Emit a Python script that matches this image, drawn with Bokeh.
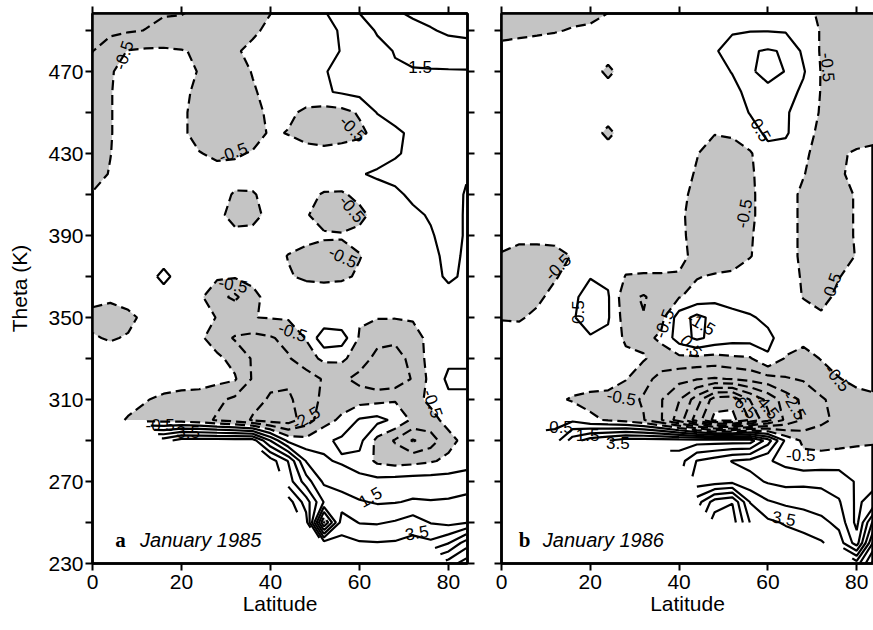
import numpy as np
from bokeh.plotting import figure
from bokeh.layouts import row
from bokeh.models import Range1d, FixedTicker, LinearAxis
from bokeh.core.properties import value
from bokeh.embed import file_html
from bokeh.resources import INLINE

nan = float("nan")

# ---------------- data ----------------
LAT = [0, 4, 8, 12, 16, 20, 24, 28, 32, 36, 40, 44, 48, 52, 56, 60, 64, 68, 72, 76, 80, 84]
THETA_DESC = [500, 490, 480, 470, 460, 450, 440, 430, 420, 410, 400, 390, 380, 370,
              360, 350, 340, 330, 320, 310, 300, 290, 280, 270, 260, 250, 240, 230]

# Panel a: January 1985 (rows from theta 500 down to 230, columns LAT)
JAN1985 = [
    [-1.8, -1.8, -1.7, -1.7, -1.6, -1.6, -1.4, -1.1, -0.9, -0.7, -0.55, -0.2, 0.1, 0.48, 0.9, 1.6, 2.0, 2.45, 2.8, 3.0, 3.1, 3.2],
    [-1.8, -1.7, -1.6, -1.48, -1.3, -1.2, -1.1, -1.0, -0.9, -0.65, -0.3, -0.1, 0.1, 0.35, 0.55, 1.0, 1.6, 1.9, 2.1, 2.4, 2.7, 2.8],
    [-1.52, -1.0, -0.45, -0.35, -0.35, -0.45, -0.6, -0.9, -0.6, -0.3, -0.1, 0.0, 0.1, 0.35, 0.52, 0.9, 1.2, 1.55, 1.7, 1.8, 1.9, 2.0],
    [-1.2, -0.6, -0.1, 0.0, 0.0, -0.2, -0.55, -1.0, -0.9, -0.45, -0.2, 0.0, 0.15, 0.45, 0.7, 1.0, 1.2, 1.4, 1.45, 1.45, 1.45, 1.45],
    [-1.0, -0.55, -0.1, 0.0, 0.0, -0.2, -0.8, -1.2, -1.1, -0.6, -0.2, 0.0, 0.1, 0.4, 0.6, 0.8, 1.0, 1.1, 1.2, 1.25, 1.3, 1.3],
    [-0.9, -0.55, -0.1, 0.0, 0.0, -0.3, -0.9, -1.3, -1.2, -0.8, -0.3, -0.3, -0.7, -0.9, -0.8, -0.4, 0.55, 0.8, 0.9, 1.0, 1.0, 0.9],
    [-0.9, -0.55, -0.1, 0.0, 0.0, -0.3, -0.9, -1.2, -1.2, -1.0, -0.35, -0.55, -0.9, -1.0, -0.9, -0.7, -0.2, 0.35, 0.65, 0.8, 0.8, 0.6],
    [-0.9, -0.52, -0.1, 0.0, 0.0, -0.1, -0.45, -0.7, -0.65, -0.4, -0.1, 0.0, -0.1, -0.2, -0.1, 0.0, 0.2, 0.45, 0.6, 0.7, 0.7, 0.55],
    [-0.8, -0.45, 0.0, 0.0, 0.0, 0.0, -0.1, -0.15, -0.1, 0.0, 0.0, 0.0, 0.1, 0.2, 0.3, 0.45, 0.6, 0.65, 0.7, 0.75, 0.75, 0.55],
    [-0.45, -0.2, 0.0, 0.0, 0.0, 0.0, 0.0, -0.1, -0.6, -0.6, -0.1, 0.0, -0.2, -0.6, -0.65, -0.2, 0.2, 0.4, 0.6, 0.7, 0.75, 0.45],
    [0.0, 0.0, 0.0, 0.0, 0.0, 0.0, 0.0, -0.2, -0.9, -0.8, -0.2, 0.0, -0.4, -1.0, -1.1, -0.8, -0.1, 0.2, 0.4, 0.55, 0.7, 0.45],
    [0.0, 0.0, 0.0, 0.0, 0.0, 0.0, 0.0, 0.0, -0.2, -0.2, 0.0, 0.0, -0.1, -0.35, -0.4, -0.2, 0.0, 0.1, 0.3, 0.45, 0.7, 0.45],
    [0.0, 0.0, 0.0, 0.0, 0.0, 0.0, 0.0, 0.0, 0.0, 0.0, 0.0, -0.55, -0.9, -1.0, -0.9, -0.55, -0.1, 0.0, 0.2, 0.4, 0.6, 0.45],
    [0.0, 0.0, 0.0, 0.0, 0.8, 0.0, 0.0, -0.35, -0.4, -0.2, 0.0, -0.4, -0.7, -0.8, -0.7, -0.35, 0.0, 0.0, 0.1, 0.3, 0.6, 0.4],
    [-0.2, -0.3, 0.0, 0.0, 0.0, 0.0, -0.3, -1.2, -1.7, -0.8, -0.1, 0.0, 0.2, 0.2, 0.2, 0.0, 0.0, 0.0, 0.0, 0.1, 0.3, 0.2],
    [-0.8, -1.0, -0.8, -0.2, 0.0, 0.0, -0.3, -0.52, -0.6, -0.52, -0.45, -0.4, -0.2, -0.3, -0.3, -0.4, -0.45, -0.45, -0.4, 0.0, 0.0, 0.0],
    [-0.4, -0.6, -0.4, 0.0, 0.0, 0.0, -0.3, -1.0, -1.6, -1.8, -1.6, -1.2, -0.45, 1.2, 1.0, -0.6, -1.2, -1.3, -0.9, -0.2, 0.0, 0.0],
    [0.0, 0.0, 0.0, 0.0, 0.0, 0.0, 0.0, -0.3, -0.8, -1.6, -2.0, -1.6, -0.9, -0.3, -0.3, -1.0, -1.8, -1.9, -1.2, -0.1, 0.3, 0.3],
    [0.0, 0.0, 0.0, 0.0, 0.0, 0.0, 0.0, -0.2, -0.4, -1.6, -2.3, -2.4, -2.0, -1.4, -1.3, -1.8, -2.3, -2.2, -1.4, -0.2, 0.7, 0.7],
    [0.0, 0.0, -0.1, -0.45, -0.7, -0.9, -1.0, -1.3, -1.7, -2.2, -2.6, -2.6, -2.2, -1.2, -1.0, -0.9, -0.8, -0.6, -0.8, -0.3, 0.3, 0.3],
    [0.0, -0.1, -0.6, -0.8, -0.9, -1.0, -1.2, -1.6, -2.0, -2.6, -3.0, -3.0, -2.0, -0.9, -0.3, 0.6, 0.8, 0.3, -0.7, -0.8, -0.2, 0.0],
    [nan, nan, nan, nan, 4.0, 5.0, 5.0, 5.0, 5.0, 5.0, 2.45, 0.2, -0.2, 0.3, 0.7, 0.8, -0.8, -1.6, -2.6, -2.0, -0.8, -0.2],
    [nan, nan, nan, nan, nan, nan, nan, nan, nan, nan, 6.0, 4.45, 1.45, 0.6, 0.4, 0.2, -0.7, -0.9, -0.8, -0.6, -0.3, 0.1],
    [nan, nan, nan, nan, nan, nan, nan, nan, nan, nan, nan, 5.0, 3.0, 1.3, 1.0, 0.7, 0.8, 0.9, 1.0, 1.0, 1.0, 1.0],
    [nan, nan, nan, nan, nan, nan, nan, nan, nan, nan, nan, 7.0, 5.0, 2.45, 2.0, 1.6, 1.4, 1.45, 1.6, 1.55, 1.6, 1.8],
    [nan, nan, nan, nan, nan, nan, nan, nan, nan, nan, nan, nan, 6.0, -1.6, 3.0, 2.45, 2.4, 2.6, 3.0, 2.45, 2.2, 2.45],
    [nan, nan, nan, nan, nan, nan, nan, nan, nan, nan, nan, nan, nan, 4.0, 3.8, 3.6, 3.55, 3.6, 3.8, 3.7, 4.45, 6.0],
    [nan, nan, nan, nan, nan, nan, nan, nan, nan, nan, nan, nan, nan, nan, nan, nan, nan, nan, nan, nan, 7.0, 8.0],
]

# Panel b: January 1986
JAN1986 = [
    [-1.0, -0.9, -0.85, -0.8, -0.75, -0.7, -0.55, -0.3, -0.1, 0.0, 0.0, 0.1, 0.2, 0.3, 0.3, 0.3, 0.2, -0.2, -0.7, -0.9, -1.0, -1.0],
    [-0.7, -0.65, -0.6, -0.55, -0.45, -0.4, -0.2, 0.0, 0.0, 0.0, 0.0, 0.1, 0.3, 0.4, 0.45, 0.45, 0.4, 0.3, -0.6, -0.9, -1.0, -1.0],
    [-0.3, -0.25, -0.2, -0.1, -0.1, 0.0, 0.0, 0.0, 0.0, 0.0, 0.0, 0.1, 0.4, 0.9, 1.4, 1.6, 1.4, 0.3, -0.6, -1.0, -1.1, -1.1],
    [0.0, 0.0, 0.0, 0.0, 0.0, 0.0, -0.75, 0.0, 0.0, 0.0, 0.0, 0.0, 0.1, 0.55, 1.3, 2.0, 1.45, 0.6, -0.55, -1.1, -1.2, -1.2],
    [0.0, 0.0, 0.0, 0.0, 0.0, 0.0, 0.0, 0.0, 0.0, 0.0, 0.0, 0.0, 0.0, 0.2, 0.8, 1.1, 0.9, 0.3, -0.55, -1.2, -1.3, -1.3],
    [0.0, 0.0, 0.0, 0.0, 0.0, 0.0, 0.0, 0.0, 0.0, 0.0, 0.0, 0.0, 0.0, 0.0, 0.55, 0.9, 0.6, 0.1, -0.6, -1.3, -1.4, -1.3],
    [0.0, 0.0, 0.0, 0.0, 0.0, 0.0, -0.75, 0.0, 0.0, 0.0, 0.0, -0.2, -0.45, -0.3, 0.1, 0.7, 0.6, 0.0, -0.8, -1.3, -1.2, -0.9],
    [0.0, 0.0, 0.0, 0.0, 0.0, 0.0, 0.0, 0.0, 0.0, 0.0, 0.0, -0.45, -1.0, -1.1, -0.6, 0.2, 0.2, -0.3, -0.9, -0.7, -0.3, -0.2],
    [0.0, 0.0, 0.0, 0.0, 0.0, 0.0, 0.0, 0.0, 0.0, 0.0, -0.1, -0.6, -1.2, -1.3, -0.65, 0.0, 0.0, -0.45, -1.0, -0.65, -0.2, 0.0],
    [0.0, 0.0, 0.0, 0.0, 0.0, 0.0, 0.0, 0.0, 0.0, 0.0, -0.2, -0.8, -1.4, -1.4, -0.7, 0.0, -0.1, -0.7, -1.1, -0.9, -0.4, 0.0],
    [0.0, 0.0, 0.0, 0.0, 0.0, 0.0, 0.0, 0.0, 0.0, 0.0, -0.3, -0.9, -1.4, -1.4, -0.7, 0.0, -0.1, -0.7, -1.2, -0.9, -0.4, 0.0],
    [-0.1, -0.2, -0.2, -0.2, 0.0, 0.0, 0.0, 0.0, 0.0, 0.0, -0.25, -0.9, -1.3, -1.2, -0.6, 0.0, -0.1, -0.7, -1.2, -0.9, -0.4, 0.0],
    [-0.6, -0.9, -0.9, -0.8, -0.45, 0.0, 0.0, 0.0, 0.0, 0.0, -0.2, -0.8, -1.1, -1.0, -0.55, 0.0, -0.1, -0.7, -1.2, -0.9, -0.45, 0.0],
    [-0.7, -1.0, -0.9, -0.6, -0.1, 0.45, 0.3, -0.55, -0.6, -0.6, -0.6, -0.55, -0.4, -0.3, 0.0, 0.0, -0.1, -0.6, -1.1, -0.55, 0.0, 0.0],
    [-0.8, -1.1, -0.7, -0.2, 0.3, 0.9, 0.6, -1.2, -1.6, -1.0, -0.55, -0.2, 0.2, 0.1, 0.0, 0.0, 0.0, -0.55, -0.9, -0.2, 0.0, 0.0],
    [-0.55, -0.6, -0.3, 0.0, 0.4, 1.0, 0.6, -1.0, -1.45, -0.8, 1.0, 1.8, 1.2, 0.8, 0.6, 0.3, 0.0, 0.0, -0.3, 0.0, 0.0, 0.0],
    [-0.2, -0.1, 0.0, 0.0, 0.2, 0.4, 0.3, -0.7, -0.8, -0.3, 1.0, 1.7, 1.2, 0.9, 0.9, 0.7, 0.1, -0.2, 0.0, 0.0, 0.0, 0.0],
    [0.0, 0.0, 0.0, 0.0, 0.0, 0.0, 0.0, -0.2, -0.4, -1.0, -0.8, -0.8, -0.9, -0.7, -0.6, 0.4, -0.6, -0.9, -0.45, 0.0, 0.0, 0.0],
    [0.0, 0.0, 0.0, 0.0, 0.0, 0.0, 0.0, -0.45, -1.2, -1.8, -2.2, -2.45, -2.6, -2.45, -2.2, -1.9, -1.6, -1.4, -1.0, -0.55, -0.2, -0.1],
    [0.0, 0.0, -0.1, -0.3, -0.6, -0.8, -0.9, -1.2, -1.6, -2.45, -3.45, -5.0, -7.0, -7.2, -5.45, -4.2, -3.0, -2.3, -1.6, -1.2, -0.9, -0.7],
    [0.0, 0.0, 0.0, 0.1, 0.3, -0.3, -0.6, -0.9, -1.45, -2.45, -4.0, -6.0, -7.8, -7.8, -6.45, -4.8, -3.3, -2.4, -1.7, -1.3, -1.0, -0.8],
    [nan, nan, nan, 1.0, 3.0, 4.0, 4.45, 5.0, 5.0, 5.0, 5.0, 5.0, 5.0, 5.0, 5.0, 3.0, 0.3, -0.7, -0.9, -0.9, -0.7, -0.55],
    [nan, nan, nan, nan, nan, nan, nan, nan, nan, nan, 4.0, 2.45, 2.0, 1.45, 1.2, 0.6, 0.2, -0.2, -0.1, 0.1, 0.0, -0.3],
    [nan, nan, nan, nan, nan, nan, nan, nan, nan, nan, nan, 2.0, 2.0, 2.2, 1.8, 1.4, 1.2, 1.3, 1.3, 1.0, 0.4, 0.2],
    [nan, nan, nan, nan, nan, nan, nan, nan, nan, nan, nan, 4.0, 6.0, 6.45, 3.45, 2.6, 2.3, 2.1, 1.9, 1.6, 0.3, 1.0],
    [nan, nan, nan, nan, nan, nan, nan, nan, nan, nan, nan, nan, 7.0, 7.0, 4.45, 3.7, 3.4, 3.2, 2.8, 2.2, 0.2, 4.0],
    [nan, nan, nan, nan, nan, nan, nan, nan, nan, nan, nan, nan, nan, nan, nan, 4.2, 4.0, 3.8, 3.6, 3.0, 1.0, 6.0],
    [nan, nan, nan, nan, nan, nan, nan, nan, nan, nan, nan, nan, nan, nan, nan, nan, nan, nan, nan, nan, 5.0, 8.0],
]

NEG_LEVELS = [-7.5, -6.5, -5.5, -4.5, -3.5, -2.5, -1.5, -0.5]
POS_LEVELS = [0.5, 1.5, 2.5, 3.5, 4.5, 5.5, 6.5, 7.5]
SHADE_LEVELS = [-7.5, -0.5]

X_TICKS = [0, 20, 40, 60, 80]
Y_TICKS = [230, 270, 310, 350, 390, 430, 470]
Y_MINOR = [250, 290, 330, 370, 410, 450, 490]

# contour labels (panel a)
A_LAB_TEXT = ["-0.5", "-0.5", "-0.5", "1.5", "-0.5", "-0.5", "-0.5", "-0.5", "-0.5", "-0.5", "3.5", "-2.5", "1.5", "3.5"]
A_LAB_LAT = [7.0, 31.6, 58.5, 73.6, 58.3, 56.3, 31.6, 45.0, 76.5, 15.2, 21.5, 48.0, 62.4, 72.9]
A_LAB_THETA = [478, 430.6, 442, 472, 403, 379.5, 366, 343, 308, 297.5, 294, 301, 262.4, 245]
A_LAB_ANGLE = [72, 20, -45, 0, -50, -25, -10, -20, -70, 0, 0, 30, 30, 10]

# contour labels (panel b)
B_LAB_TEXT = ["-0.5", "0.5", "-0.5", "-0.5", "0.5", "0.5", "-0.5", "-1.5", "0.5", "-0.5", "-0.5",
              "-6.5", "-4.5", "-2.5", "-0.5", "0.5", "1.5", "3.5", "3.5"]
B_LAB_LAT = [73.5, 58.4, 54.6, 12.7, 74.5, 17.2, 36.6, 45.0, 42.7, 27.0, 75.7,
             54.6, 59.7, 66.0, 67.4, 13.4, 19.4, 26.2, 63.6]
B_LAB_THETA = [472, 441.5, 400.7, 374.6, 366, 352.6, 347, 347, 336, 311, 320.5,
               307, 307, 307, 282.7, 296.6, 292.6, 289, 252]
B_LAB_ANGLE = [-85, -60, 80, 45, 70, 90, 70, -30, -50, -10, -50,
               -45, -50, -60, 0, 0, 0, 0, -10]

PANEL_LETTER = ["a", "b"]
PANEL_TITLE = ["January 1985", "January 1986"]

GRAY = "#c4c4c4"
FONT = "Liberation Sans"


def style_axis(ax, show_labels, ticks, minor=None):
    ax.ticker = FixedTicker(ticks=ticks, minor_ticks=minor or [])
    ax.axis_line_width = 2.5
    ax.axis_line_color = "black"
    ax.major_tick_out = 7
    ax.major_tick_in = 0
    ax.minor_tick_out = 7
    ax.minor_tick_in = 0
    ax.major_tick_line_width = 2
    ax.minor_tick_line_width = 2
    ax.major_label_text_font = FONT
    if show_labels:
        ax.major_label_text_color = "black"
        ax.major_label_text_font_size = "21px"
    else:
        ax.major_label_text_color = None
        ax.major_label_text_font_size = "0px"
        ax.major_label_standoff = 0


def make_panel(rows, width, left, right, xmax, show_ylabels, lab, idx, right_axis):
    p = figure(width=width, height=630, output_backend="svg", toolbar_location=None,
               x_range=Range1d(0, xmax), y_range=Range1d(230, 498.3),
               min_border_left=left, min_border_right=right,
               min_border_top=13, min_border_bottom=67)
    p.background_fill_color = "white"
    p.border_fill_color = "white"
    p.outline_line_color = "black"
    p.outline_line_width = 2.5
    p.grid.visible = False

    theta_asc = THETA_DESC[::-1]
    z = np.ma.masked_invalid(np.array(rows[::-1], dtype=float))
    X, Y = np.meshgrid(np.array(LAT, dtype=float), np.array(theta_asc, dtype=float))

    p.contour(X, Y, z, SHADE_LEVELS, fill_color=GRAY)
    p.contour(X, Y, z, NEG_LEVELS, line_color="black", line_width=2.2, line_dash="10 5")
    p.contour(X, Y, z, POS_LEVELS, line_color="black", line_width=2.2)

    text, lat, th, ang = lab
    p.text(x=lat, y=th, text=text, angle=ang, angle_units="deg",
           text_font=value(FONT), text_font_size="17px", text_color="black",
           text_align="center", text_baseline="middle")

    # panel title
    letter_lat = [5.1, 3.9][idx]
    title_lat = [10.7, 9.3][idx]
    p.text(x=[letter_lat], y=[241.4], text=[PANEL_LETTER[idx]],
           text_font=value("Liberation Serif"), text_font_style="bold",
           text_font_size="21px", text_color="black",
           text_align="left", text_baseline="alphabetic")
    p.text(x=[title_lat], y=[241.4], text=[PANEL_TITLE[idx]],
           text_font=value(FONT), text_font_style="italic",
           text_font_size="20px", text_color="black",
           text_align="left", text_baseline="alphabetic")

    # axes
    style_axis(p.xaxis[0], True, X_TICKS)
    p.xaxis[0].axis_label = "Latitude"
    p.xaxis[0].axis_label_text_font = FONT
    p.xaxis[0].axis_label_text_font_size = "21px"
    p.xaxis[0].axis_label_text_font_style = "normal"
    p.xaxis[0].axis_label_text_color = "black"
    p.xaxis[0].axis_label_standoff = 0
    p.xaxis[0].major_label_standoff = 4

    style_axis(p.yaxis[0], show_ylabels, Y_TICKS, Y_MINOR)
    if show_ylabels:
        p.yaxis[0].axis_label = "Theta (K)"
        p.yaxis[0].axis_label_text_font = FONT
        p.yaxis[0].axis_label_text_font_size = "21px"
        p.yaxis[0].axis_label_text_font_style = "normal"
        p.yaxis[0].axis_label_text_color = "black"
        p.yaxis[0].axis_label_standoff = 14
        p.yaxis[0].major_label_standoff = 2

    top = LinearAxis()
    style_axis(top, False, X_TICKS)
    p.add_layout(top, "above")
    if right_axis:
        rt = LinearAxis()
        style_axis(rt, False, Y_TICKS, Y_MINOR)
        p.add_layout(rt, "right")
    return p


pa = make_panel(JAN1985, 484, 92, 17, 375 / 4.45, True,
                (A_LAB_TEXT, A_LAB_LAT, A_LAB_THETA, A_LAB_ANGLE), 0, True)
pb = make_panel(JAN1986, 389, 17, 0, 372 / 4.44, False,
                (B_LAB_TEXT, B_LAB_LAT, B_LAB_THETA, B_LAB_ANGLE), 1, False)

layout = row(pa, pb)
open("out.html", "w").write(file_html(layout, INLINE))
